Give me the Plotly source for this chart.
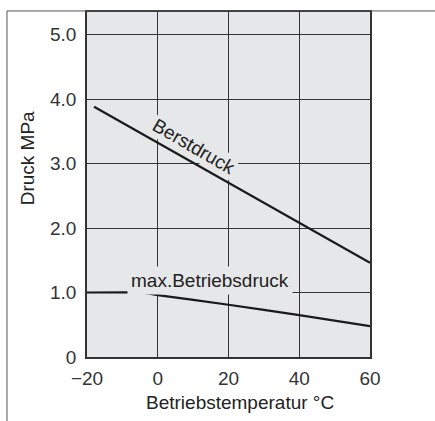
import plotly.graph_objects as go

# Data
temp_burst = [-18, 60]
p_burst = [3.88, 1.46]
temp_op = [-20, -5, 0, 20, 40, 60]
p_op = [1.0, 1.0, 0.96, 0.81, 0.65, 0.48]

x_ticks = [-20, 0, 20, 40, 60]
x_ticklabels = ["\u221220", "0", "20", "40", "60"]
y_ticks = [0, 1, 2, 3, 4, 5]
y_ticklabels = ["0", "1.0", "2.0", "3.0", "4.0", "5.0"]

BG = "#e6e7e9"
INK = "#222222"
FONT = "Liberation Sans, Arial, Helvetica, sans-serif"
FS = 19

fig = go.Figure()
fig.add_trace(go.Scatter(x=temp_burst, y=p_burst, mode="lines",
                         line=dict(color="#1a1a1a", width=2.2), hoverinfo="skip"))
fig.add_trace(go.Scatter(x=temp_op, y=p_op, mode="lines",
                         line=dict(color="#1a1a1a", width=2.2, shape="spline", smoothing=0.3),
                         hoverinfo="skip"))

fig.update_layout(
    width=435, height=421,
    margin=dict(l=87, r=65, t=10, b=64),
    paper_bgcolor="white", plot_bgcolor=BG,
    showlegend=False,
    font=dict(family=FONT, size=FS, color="#333333"),
    xaxis=dict(range=[-20, 60], tickvals=x_ticks, ticktext=x_ticklabels,
               showgrid=True, gridcolor="#333333", gridwidth=1,
               showline=True, linecolor="#333333", linewidth=1.5, mirror=True,
               ticks="", zeroline=False, ticklabelstandoff=3),
    yaxis=dict(range=[0, 5.35], tickvals=y_ticks, ticktext=y_ticklabels,
               showgrid=True, gridcolor="#333333", gridwidth=1,
               showline=True, linecolor="#333333", linewidth=1.5, mirror=True,
               ticks="", zeroline=False, ticklabelstandoff=5),
)

annotations = [
    dict(x=10.2, y=3.26, xref="x", yref="y", text="Berstdruck", showarrow=False,
         textangle=30, bgcolor=BG, borderpad=1, font=dict(size=FS, color=INK)),
    dict(x=14.8, y=1.19, xref="x", yref="y", text="max.Betriebsdruck", showarrow=False,
         bgcolor=BG, borderpad=3, font=dict(size=FS, color=INK)),
    dict(x=-0.212, y=0.576, xref="paper", yref="paper", text="Druck MPa", showarrow=False,
         xanchor="center", yanchor="middle",
         textangle=-90, font=dict(size=FS, color=INK)),
    dict(x=0.541, y=-0.133, xref="paper", yref="paper", text="Betriebstemperatur \u00b0C",
         xanchor="center", yanchor="middle",
         showarrow=False, font=dict(size=FS, color=INK)),
]
fig.update_layout(annotations=annotations)

# outer page frame (left and top edges)
fig.add_shape(type="line", xref="paper", yref="paper", x0=-0.2827, x1=-0.2827, y0=1.003, y1=-0.19,
              line=dict(color="#555555", width=1))
fig.add_shape(type="line", xref="paper", yref="paper", x0=-0.2827, x1=1.25, y0=1.003, y1=1.003,
              line=dict(color="#555555", width=1))

fig.write_html("out.html", config={"displayModeBar": False},
               post_script="document.body.style.margin='0';")
